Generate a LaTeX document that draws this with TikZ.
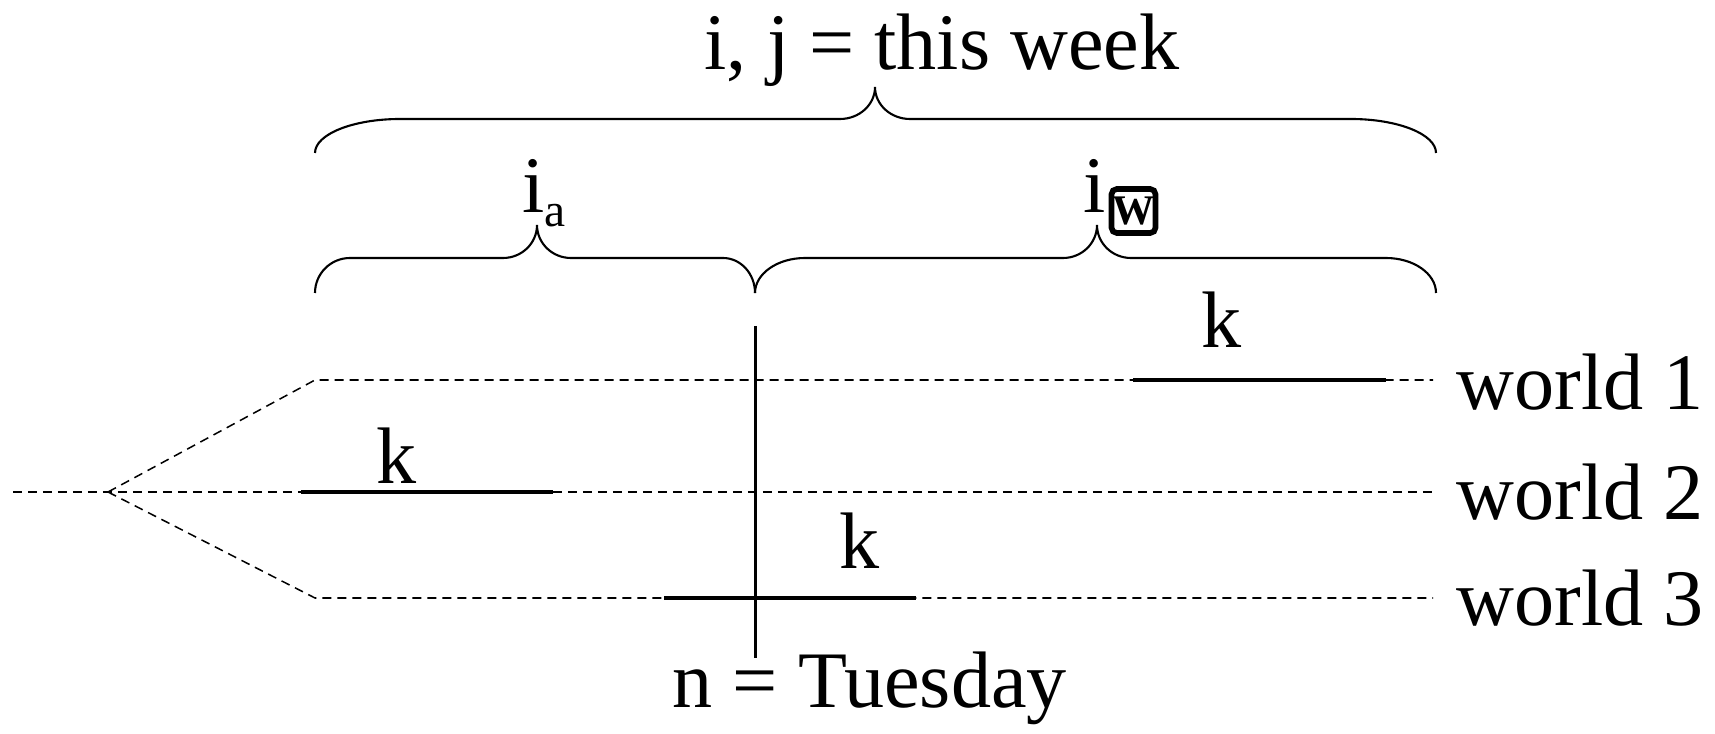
\documentclass[tikz,border=0pt]{standalone}
\usepackage{fontspec}
\setmainfont{Liberation Serif}
\newcommand{\subsz}{\fontsize{13.5}{16}\selectfont}
\begin{document}
\begin{tikzpicture}[
  lbl/.style={inner sep=0pt, anchor=base, font=\fontsize{22.8}{27}\selectfont},
  worldline/.style={line width=0.43pt, dash pattern=on 0.09cm off 0.06cm},
  kspan/.style={line width=1.3pt},
  brace/.style={line width=0.6pt}]
\useasboundingbox (0,0) rectangle (17.15,7.33);
% braces
\draw[brace] (3.15,5.80) arc[start angle=180, end angle=90, x radius=.85, y radius=.34] -- (8.40,6.14)
  arc[start angle=-90, end angle=0, x radius=.35, y radius=.32] arc[start angle=180, end angle=270, x radius=.35, y radius=.32]
  -- (13.51,6.14) arc[start angle=90, end angle=0, x radius=.85, y radius=.34];
\draw[brace] (3.15,4.40) arc[start angle=180, end angle=90, radius=.35] -- (5.03,4.75)
  arc[start angle=-90, end angle=0, x radius=.34, y radius=.33] arc[start angle=180, end angle=270, x radius=.34, y radius=.33]
  -- (7.23,4.75) arc[start angle=90, end angle=0, x radius=.32, y radius=.35];
\draw[brace] (7.55,4.40) arc[start angle=180, end angle=90, x radius=.5, y radius=.35] -- (10.63,4.75)
  arc[start angle=-90, end angle=0, x radius=.34, y radius=.33] arc[start angle=180, end angle=270, x radius=.34, y radius=.33]
  -- (13.86,4.75) arc[start angle=90, end angle=0, x radius=.5, y radius=.35];
% labels
\node[lbl, anchor=base west] (title) at (7.04,6.63) {i, j = this week};
\node[lbl, anchor=base west] (ia) at (5.22,5.20) {i\raisebox{-0.14cm}{\subsz a}};
\node[lbl, anchor=base west] (iw) at (10.83,5.20) {i};
\node[draw, line width=1.6pt, rounded corners=1.5pt, minimum size=0.44cm, inner sep=0pt,
  font=\fontsize{12}{12}\bfseries\selectfont] (glyph) at (11.335,5.22) {W};
% worlds
\coordinate (start) at (0.13,2.41);
\coordinate (root) at (1.08,2.41);
\coordinate (w1l) at (3.15,3.53);
\coordinate (w3l) at (3.15,1.35);
\coordinate (w1r) at (14.33,3.53);
\coordinate (w2r) at (14.33,2.41);
\coordinate (w3r) at (14.33,1.35);
\draw[worldline] (start) -- (root) -- (w2r);
\draw[worldline] (root) -- (w1l) -- (w1r);
\draw[worldline] (root) -- (w3l) -- (w3r);
\node[lbl, anchor=base west] (wlab1) at (14.56,3.23) {world 1};
\node[lbl, anchor=base west] (wlab2) at (14.56,2.13) {world 2};
\node[lbl, anchor=base west] (wlab3) at (14.56,1.08) {world 3};
% k intervals
\coordinate (k1a) at (11.33,3.53); \coordinate (k1b) at (13.86,3.53);
\coordinate (k2a) at (3.01,2.41);  \coordinate (k2b) at (5.53,2.41);
\coordinate (k3a) at (6.64,1.35);  \coordinate (k3b) at (9.16,1.35);
\draw[kspan] (k1a) -- (k1b);
\draw[kspan] (k2a) -- (k2b);
\draw[kspan] (k3a) -- (k3b);
\node[lbl] (k1) at (12.22,3.85) {k};
\node[lbl] (k2) at (3.97,2.50) {k};
\node[lbl] (k3) at (8.60,1.65) {k};
% now
\coordinate (ntop) at (7.55,4.07);
\coordinate (nbot) at (7.55,0.75);
\draw[line width=0.85pt] (ntop) -- (nbot);
\node[lbl, anchor=base west] (tue) at (6.72,0.26) {n = Tuesday};
\end{tikzpicture}
\end{document}
